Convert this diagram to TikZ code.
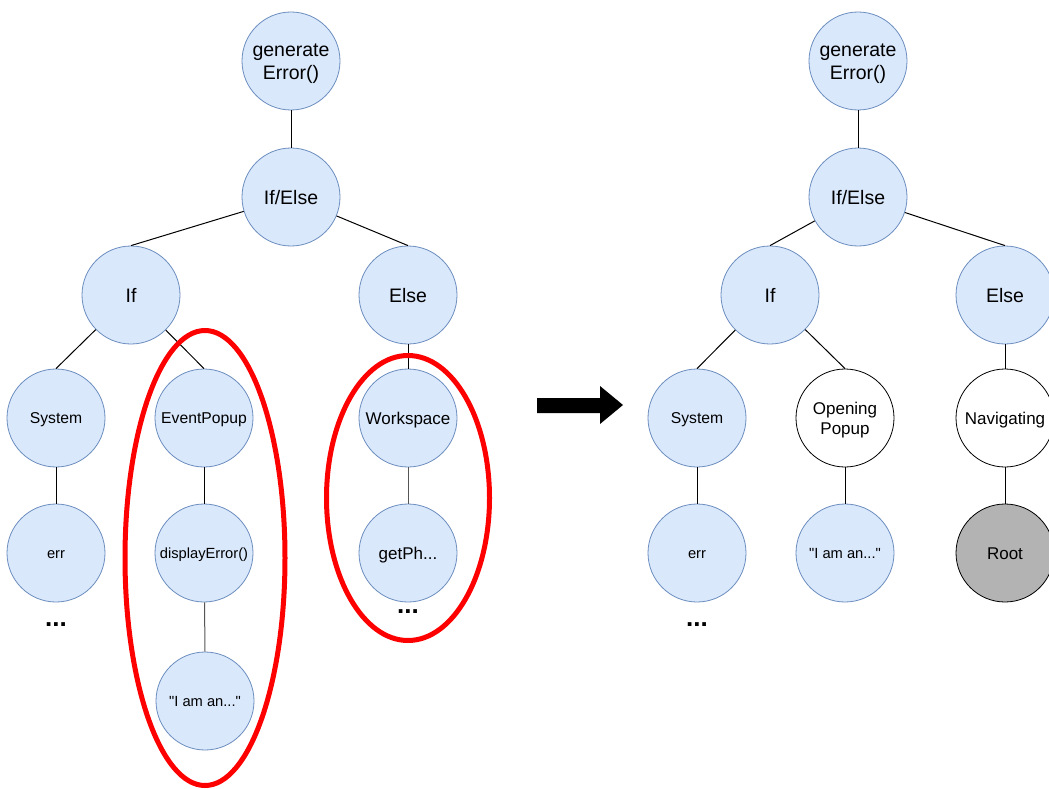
\documentclass[tikz,border=0pt]{standalone}
\usepackage{fontspec}
\setmainfont{Liberation Sans}[Ligatures=TeXOff]
\usetikzlibrary{shapes.geometric}
\definecolor{nodefill}{HTML}{DAE8FC}
\definecolor{nodeline}{HTML}{6C8EBF}
\definecolor{rootfill}{HTML}{B3B3B3}
\definecolor{edgegray}{HTML}{555555}
\begin{document}
\begin{tikzpicture}[x=1pt,y=-1pt,
  tn/.style={circle, minimum size=98pt, inner sep=0pt, draw=nodeline, fill=nodefill, line width=0.8pt, align=center},
  wn/.style={circle, minimum size=98pt, inner sep=0pt, draw=black, fill=white, line width=0.8pt, align=center},
  gn/.style={circle, minimum size=98pt, inner sep=0pt, draw=black, fill=rootfill, line width=0.8pt, align=center},
  big/.style={font=\fontsize{19.5}{23}\selectfont},
  mid/.style={font=\fontsize{17}{20}\selectfont},
  sml/.style={font=\fontsize{15.7}{18}\selectfont},
  tiny/.style={font=\fontsize{14.7}{17}\selectfont},
  twobig/.style={big, text height=37pt, text depth=0pt},
  twomid/.style={mid, text height=32.2pt, text depth=0pt},
  onebig/.style={big, text height=14pt, text depth=0pt},
  onemid/.style={mid, text height=12.2pt, text depth=0pt},
  onesml/.style={sml, text height=11.3pt, text depth=0pt},
  onetiny/.style={tiny, text height=10.6pt, text depth=0pt},
  edge/.style={draw=black, line width=1pt},
  gedge/.style={draw=edgegray, line width=1pt},
  dots/.style={font=\fontsize{26}{26}\bfseries\selectfont, inner sep=0pt},
  redring/.style={draw=red, line width=5pt}
]
\clip (0,0) rectangle (1049,789);
\fill[white] (0,0) rectangle (1049,789);

% ---------- left tree ----------
\node[tn,twobig] (lgen) at (291,61) {generate\\Error()};
\node[tn,onebig] (lie) at (291,197) {If/Else};
\node[tn,onebig] (lif) at (131,295) {If};
\node[tn,onebig] (lelse) at (408,295) {Else};
\node[tn,onesml] (lsys) at (56,418) {System};
\node[tn,onesml] (levp) at (204,418) {EventPopup};
\node[tn,onetiny] (lerr) at (56,553) {err};
\node[tn,onetiny] (ldisp) at (204,553) {displayError()};
\node[tn,onetiny] (liam) at (205,701) {"I am an..."};
\node[tn,onemid] (lws) at (408,418) {Workspace};
\node[tn,onemid] (lget) at (408,553) {getPh...};
\node[dots] (ldots1) at (56,625) {...};
\node[dots] (ldots2) at (408,612) {...};

\path[edge] (lgen) -- (lie.north);
\path[edge] (lie) -- (lif.north);
\path[edge] (lie) -- (lelse.north);
\path[edge] (lif) -- (lsys.north);
\path[edge] (lif) -- (levp.north);
\path[edge] (lsys) -- (lerr.north);
\path[edge] (levp) -- (ldisp.north);
\path[gedge] (ldisp) -- (liam.north);
\path[edge] (lelse) -- (lws.north);
\path[gedge] (lws) -- (lget.north);

% red rings
\node[ellipse, redring, minimum width=160pt, minimum height=455pt, inner sep=0pt] (ring1) at (205,558) {};
\node[ellipse, redring, minimum width=163pt, minimum height=285pt, inner sep=0pt] (ring2) at (408,498) {};

% ---------- arrow ----------
\fill[black] (537,398) -- (600,398) -- (600,386) -- (623,405) -- (600,424) -- (600,413) -- (537,413) -- cycle;

% ---------- right tree ----------
\node[tn,twobig] (rgen) at (858,61) {generate\\Error()};
\node[tn,onebig] (rie) at (858,197) {If/Else};
\node[tn,onebig] (rif) at (770,295) {If};
\node[tn,onebig] (relse) at (1005,295) {Else};
\node[tn,onesml] (rsys) at (697,418) {System};
\node[wn,twomid] (rop) at (845,418) {Opening\\Popup};
\node[wn,onemid] (rnav) at (1005,418) {Navigating};
\node[tn,onetiny] (rerr) at (697,553) {err};
\node[tn,onetiny] (riam) at (845,553) {"I am an..."};
\node[gn,onemid] (rroot) at (1005,553) {Root};
\node[dots] (rdots) at (697,625) {...};

\path[edge] (rgen) -- (rie.north);
\path[edge] (rie) -- (rif.north);
\path[edge] (rie) -- (relse.north);
\path[edge] (rif) -- (rsys.north);
\path[edge] (rif) -- (rop.north);
\path[edge] (relse) -- (rnav.north);
\path[edge] (rsys) -- (rerr.north);
\path[edge] (rop) -- (riam.north);
\path[edge] (rnav) -- (rroot.north);
\end{tikzpicture}
\end{document}
